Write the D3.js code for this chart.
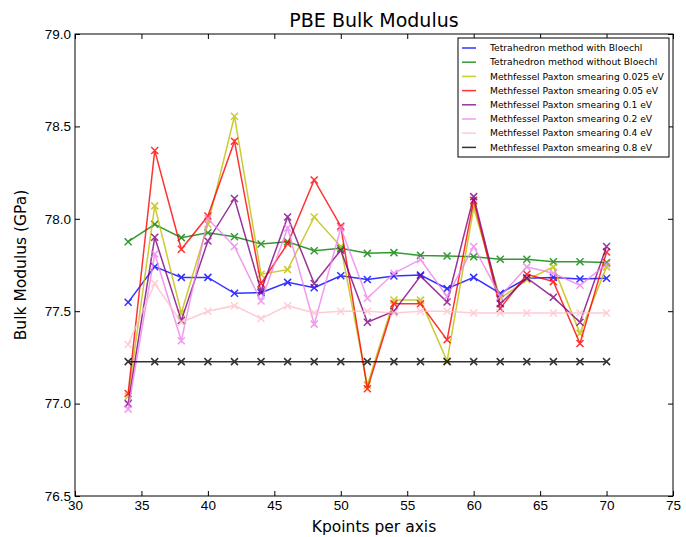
<!DOCTYPE html>
<html>
<head>
<meta charset="utf-8">
<script src="https://cdn.jsdelivr.net/npm/d3@7"></script>
<style>
  body { margin: 0; background: #fff; }
  svg { font-family: "DejaVu Sans", sans-serif; }
</style>
</head>
<body>
<div id="chart"></div>
<script>
// kpoints per axis
const kpoints = [34, 36, 38, 40, 42, 44, 46, 48, 50, 52, 54, 56, 58, 60, 62, 64, 66, 68, 70];

const tetraBloechl = [77.548, 77.741, 77.683, 77.683, 77.597, 77.60, 77.656, 77.627, 77.692, 77.672, 77.69, 77.696, 77.622, 77.683, 77.597, 77.678, 77.683, 77.674, 77.678];
const tetraNoBloechl = [77.876, 77.97, 77.898, 77.925, 77.903, 77.864, 77.876, 77.827, 77.84, 77.813, 77.817, 77.802, 77.799, 77.795, 77.781, 77.781, 77.768, 77.768, 77.763];
const mp0025 = [77.04, 78.07, 77.49, 77.97, 78.555, 77.70, 77.725, 78.01, 77.85, 77.10, 77.56, 77.56, 77.23, 78.06, 77.57, 77.67, 77.74, 77.38, 77.74];
const mp005 = [77.055, 78.37, 77.835, 78.015, 78.42, 77.65, 77.865, 78.21, 77.96, 77.08, 77.54, 77.54, 77.345, 78.10, 77.515, 77.70, 77.66, 77.325, 77.82];
const mp01 = [77.00, 77.90, 77.45, 77.88, 78.11, 77.61, 78.01, 77.65, 77.83, 77.44, 77.50, 77.69, 77.55, 78.12, 77.54, 77.68, 77.575, 77.44, 77.85];
const mp02 = [76.97, 77.81, 77.34, 78.00, 77.85, 77.555, 77.95, 77.43, 77.95, 77.57, 77.705, 77.78, 77.58, 77.85, 77.58, 77.74, 77.705, 77.64, 77.755];
const mp04 = [77.32, 77.65, 77.44, 77.50, 77.53, 77.46, 77.53, 77.49, 77.50, 77.50, 77.49, 77.50, 77.50, 77.49, 77.49, 77.49, 77.49, 77.49, 77.49];
const mp08 = [77.227, 77.227, 77.227, 77.227, 77.227, 77.227, 77.227, 77.227, 77.227, 77.227, 77.227, 77.227, 77.227, 77.227, 77.227, 77.227, 77.227, 77.227, 77.227];

const seriesNames = [
  "Tetrahedron method with Bloechl",
  "Tetrahedron method without Bloechl",
  "Methfessel Paxton smearing 0.025 eV",
  "Methfessel Paxton smearing 0.05 eV",
  "Methfessel Paxton smearing 0.1 eV",
  "Methfessel Paxton smearing 0.2 eV",
  "Methfessel Paxton smearing 0.4 eV",
  "Methfessel Paxton smearing 0.8 eV"
];
const seriesValues = [tetraBloechl, tetraNoBloechl, mp0025, mp005, mp01, mp02, mp04, mp08];
const seriesColors = ["#0000ff", "#008000", "#bfbf00", "#ff0000", "#800080", "#ee82ee", "#ffc0cb", "#000000"];

const xTicks = [30, 35, 40, 45, 50, 55, 60, 65, 70, 75];
const yTicks = [76.5, 77.0, 77.5, 78.0, 78.5, 79.0];

const width = 686, height = 537;
const margin = {left: 75, right: 13, top: 34, bottom: 41};

const svg = d3.select("#chart").append("svg")
  .attr("width", width).attr("height", height);

const x = d3.scaleLinear().domain([30, 75]).range([margin.left, width - margin.right]);
const y = d3.scaleLinear().domain([76.5, 79.0]).range([height - margin.bottom, margin.top]);

const plotW = width - margin.left - margin.right;
const plotH = height - margin.top - margin.bottom;

// ticks on all sides, pointing inward (matplotlib classic look)
function styleAxis(g) {
  g.select(".domain").remove();
  g.selectAll("line").attr("stroke", "#000").attr("stroke-width", 1);
  g.selectAll("text").attr("fill", "#000").style("font-size", "13.5px");
}

svg.append("g")
  .attr("transform", "translate(0," + (height - margin.bottom) + ")")
  .call(d3.axisBottom(x).tickValues(xTicks).tickSize(-5).tickPadding(4).tickFormat(d3.format("d")))
  .call(styleAxis);
svg.append("g")
  .attr("transform", "translate(0," + margin.top + ")")
  .call(d3.axisTop(x).tickValues(xTicks).tickSize(-5).tickFormat(""))
  .call(styleAxis);
svg.append("g")
  .attr("transform", "translate(" + margin.left + ",0)")
  .call(d3.axisLeft(y).tickValues(yTicks).tickSize(-5).tickPadding(4).tickFormat(d3.format(".1f")))
  .call(styleAxis);
svg.append("g")
  .attr("transform", "translate(" + (width - margin.right) + ",0)")
  .call(d3.axisRight(y).tickValues(yTicks).tickSize(-5).tickFormat(""))
  .call(styleAxis);

const plot = svg.append("g");

const line = d3.line()
  .x((d, i) => x(kpoints[i]))
  .y(d => y(d));

seriesValues.forEach((vals, si) => {
  const g = plot.append("g").attr("opacity", 0.8);
  g.append("path")
    .attr("d", line(vals))
    .attr("fill", "none")
    .attr("stroke", seriesColors[si])
    .attr("stroke-width", 1.5);
  const s = 3.5;
  g.selectAll("path.mk").data(vals).enter().append("path")
    .attr("class", "mk")
    .attr("d", (d, i) => {
      const cx = x(kpoints[i]), cy = y(d);
      return "M" + (cx - s) + "," + (cy - s) + "L" + (cx + s) + "," + (cy + s) +
             "M" + (cx - s) + "," + (cy + s) + "L" + (cx + s) + "," + (cy - s);
    })
    .attr("stroke", seriesColors[si])
    .attr("stroke-width", 1.5)
    .attr("fill", "none");
});

// frame
svg.append("rect")
  .attr("x", margin.left).attr("y", margin.top)
  .attr("width", plotW).attr("height", plotH)
  .attr("fill", "none").attr("stroke", "#000").attr("stroke-width", 1);

// legend
const lg = svg.append("g").attr("transform", "translate(458,38)");
lg.append("rect")
  .attr("width", 211).attr("height", 119)
  .attr("fill", "#fff").attr("stroke", "#000").attr("stroke-width", 1);
seriesNames.forEach((name, i) => {
  const ly = 10 + i * 14.2;
  lg.append("line")
    .attr("x1", 4).attr("x2", 18).attr("y1", ly).attr("y2", ly)
    .attr("stroke", seriesColors[i]).attr("stroke-width", 1.5).attr("opacity", 0.8);
  lg.append("text")
    .attr("x", 32).attr("y", ly + 3.2)
    .style("font-size", "9.2px")
    .text(name);
});

// title and labels
svg.append("text")
  .attr("x", margin.left + plotW / 2).attr("y", 27)
  .attr("text-anchor", "middle").style("font-size", "19px")
  .text("PBE Bulk Modulus");
svg.append("text")
  .attr("x", margin.left + plotW / 2).attr("y", 532)
  .attr("text-anchor", "middle").style("font-size", "15.5px")
  .text("Kpoints per axis");
svg.append("text")
  .attr("transform", "translate(26," + (margin.top + plotH / 2) + ") rotate(-90)")
  .attr("text-anchor", "middle").style("font-size", "15.5px")
  .text("Bulk Modulus (GPa)");
</script>
</body>
</html>
